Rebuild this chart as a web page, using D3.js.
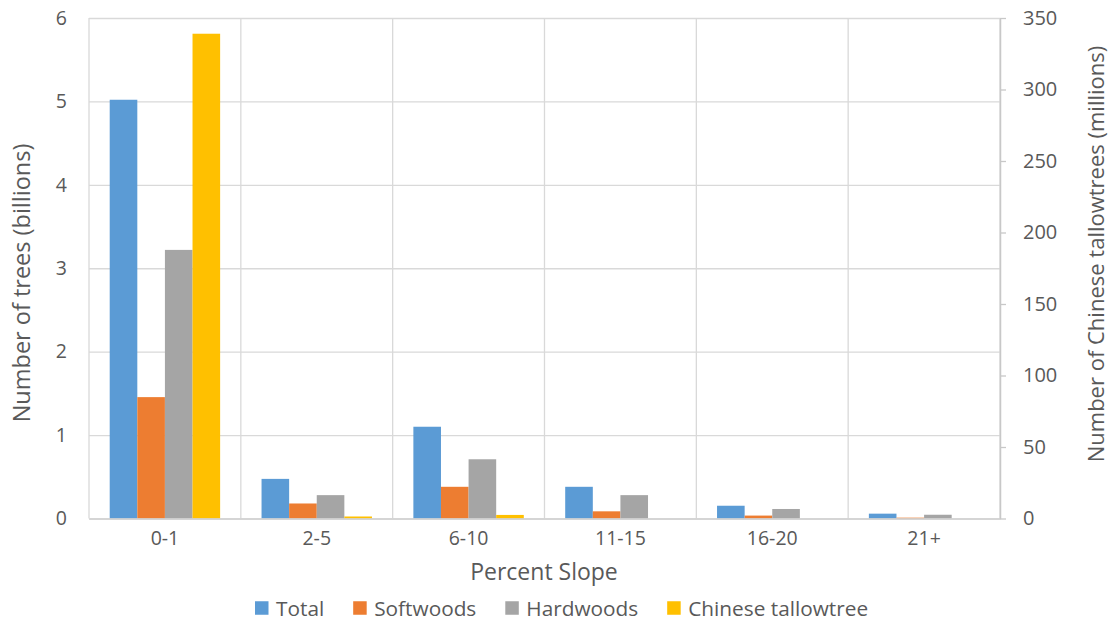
<!DOCTYPE html>
<html><head><meta charset="utf-8">
<script src="https://cdn.jsdelivr.net/npm/d3@7"></script>
<style>body{margin:0;background:#fff}svg{display:block}</style>
</head><body>
<script>
const categories = ["0-1","2-5","6-10","11-15","16-20","21+"];
const seriesNames = ["Total","Softwoods","Hardwoods","Chinese tallowtree"];
const total      = [5.02, 0.475, 1.10, 0.38, 0.153, 0.058];
const softwoods  = [1.455, 0.18, 0.38, 0.086, 0.035, 0.01];
const hardwoods  = [3.22, 0.28, 0.71, 0.28, 0.114, 0.045];
const tallowtree = [339, 1.4, 2.5, 0, 0, 0];   // millions, right axis
const leftTicks  = [0,1,2,3,4,5,6];
const rightTicks = [0,50,100,150,200,250,300,350];
const colors = ["#5b9bd5","#ed7d31","#a5a5a5","#ffc000"];

const W=1112,H=621;
const m={l:89,r:1000,t:18,b:518.5};
const font="'Open Sans', 'DejaVu Sans', sans-serif";
const txt="#595959";
const svg=d3.select("body").append("svg").attr("width",W).attr("height",H);

const x0=d3.scaleBand().domain(categories).range([m.l,m.r]).paddingInner(0).paddingOuter(0);
const x1=d3.scaleBand().domain(seriesNames).range([0,x0.bandwidth()]).paddingInner(0).paddingOuter(0.75);
const yL=d3.scaleLinear().domain([0,6]).range([m.b,m.t]);
const yR=d3.scaleLinear().domain([0,350]).range([m.b,m.t]);

// horizontal gridlines + left labels
const gy=svg.append("g").attr("transform",`translate(${m.l},0)`)
  .call(d3.axisLeft(yL).tickValues(leftTicks).tickSize(-(m.r-m.l)).tickFormat(d=>d).tickPadding(22));
gy.select(".domain").remove();
gy.selectAll(".tick line").attr("stroke","#d9d9d9").attr("stroke-width",1.3);
gy.selectAll(".tick text").attr("fill",txt).style("font-family",font).style("font-size","19.5px");

// vertical gridlines at category boundaries
const bounds=categories.map(c=>x0(c)).concat([m.r]);
svg.append("g").selectAll("line").data(bounds).join("line")
  .attr("x1",d=>d).attr("x2",d=>d).attr("y1",m.t).attr("y2",m.b)
  .attr("stroke","#d9d9d9").attr("stroke-width",1.3);

// bars
const data=[total,softwoods,hardwoods,tallowtree];
const scales=[yL,yL,yL,yR];
const groups=svg.append("g").selectAll("g").data(categories).join("g")
  .attr("transform",c=>`translate(${x0(c)},0)`);
groups.selectAll("rect").data((c,i)=>seriesNames.map((s,k)=>({s,k,v:data[k][i]})))
  .join("rect")
  .attr("x",d=>x1(d.s)).attr("width",x1.bandwidth())
  .attr("y",d=>scales[d.k](d.v)).attr("height",d=>m.b-scales[d.k](d.v))
  .attr("fill",d=>colors[d.k]);

// bottom axis
const gx=svg.append("g").attr("transform",`translate(0,${m.b})`)
  .call(d3.axisBottom(x0).tickSize(0).tickPadding(13));
gx.select(".domain").attr("stroke","#d0d0d0").attr("stroke-width",1.5);
gx.selectAll(".tick text").attr("fill",txt).style("font-family",font).style("font-size","19.5px");

// right axis
const gr=svg.append("g").attr("transform",`translate(${m.r},0)`)
  .call(d3.axisRight(yR).tickValues(rightTicks).tickSize(6).tickSizeOuter(0).tickPadding(17));
gr.select(".domain").attr("stroke","#c8c8c8").attr("stroke-width",1.5);
gr.selectAll(".tick line").attr("stroke","#c8c8c8").attr("stroke-width",1.3);
gr.selectAll(".tick text").attr("fill",txt).style("font-family",font).style("font-size","20px");

// axis titles
svg.append("text").attr("x",544).attr("y",580).attr("text-anchor","middle")
  .attr("fill",txt).style("font-family",font).style("font-size","23px").text("Percent Slope");
svg.append("text").attr("transform",`translate(30,283) rotate(-90)`).attr("text-anchor","middle")
  .attr("fill",txt).style("font-family",font).style("font-size","23.5px").text("Number of trees (billions)");
svg.append("text").attr("transform",`translate(1104,254) rotate(-90)`).attr("text-anchor","middle")
  .attr("fill",txt).style("font-family",font).style("font-size","22px").text("Number of Chinese tallowtrees (millions)");

// legend
const lg=svg.append("g").attr("transform","translate(255,608)");
const sq=13.5, gapT=7.5, gapItem=29;
let cx=0;
seriesNames.forEach((s,k)=>{
  const g=lg.append("g").attr("transform",`translate(${cx},0)`);
  g.append("rect").attr("x",0).attr("y",-sq/2).attr("width",sq).attr("height",sq).attr("fill",colors[k]);
  const t=g.append("text").attr("x",sq+gapT).attr("y",7.5).attr("fill",txt)
    .style("font-family",font).style("font-size","20.8px").text(s);
  cx+=sq+gapT+t.node().getComputedTextLength()+gapItem;
});
</script>
</body></html>
